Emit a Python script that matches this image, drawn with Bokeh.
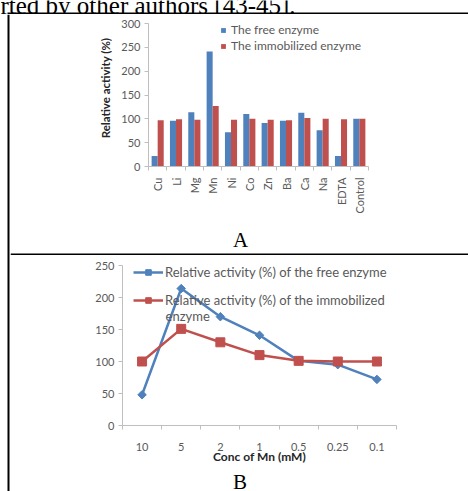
import numpy as np
from bokeh.plotting import figure
from bokeh.models import Range1d, FixedTicker, Legend, LegendItem, Label
from bokeh.layouts import column, row
from bokeh.embed import file_html
from bokeh.resources import INLINE
from bokeh.core.properties import value

# ---- data: chart A (effect of metal ions) ----
metals = ["Cu", "Li", "Mg", "Mn", "Ni", "Co", "Zn", "Ba", "Ca", "Na", "EDTA", "Control"]
free_a = [22, 96, 114, 241, 72, 110, 91, 96, 113, 76, 22, 100]
immob_a = [97, 99, 98, 127, 98, 100, 98, 97, 102, 100, 99, 100]
yticks_a = [0, 50, 100, 150, 200, 250, 300]

# ---- data: chart B (Mn concentration) ----
conc = ["10", "5", "2", "1", "0.5", "0.25", "0.1"]
free_b = [48, 214, 170, 141, 101, 95, 72]
immob_b = [100, 151, 130, 110, 101, 100, 100]
yticks_b = [0, 50, 100, 150, 200, 250]

BLUE = "#4F81BD"
RED = "#C0504D"
FONT = "Lato"
TICK_COLOR = "#595959"
AXIS_COLOR = "#BFBFBF"
TITLE_COLOR = "#262626"
SERIF = value("Liberation Serif")


def strip(w, h, color="white"):
    f = figure(width=w, height=h, x_range=Range1d(0, w), y_range=Range1d(0, h),
               toolbar_location=None, output_backend="svg", min_border=0,
               x_axis_location=None, y_axis_location=None, title=None)
    f.frame_align = False
    f.grid.visible = False
    f.outline_line_color = None
    f.background_fill_color = color
    f.border_fill_color = color
    return f


def style_axis(ax):
    ax.axis_line_color = AXIS_COLOR
    ax.major_tick_line_color = AXIS_COLOR
    ax.minor_tick_line_color = AXIS_COLOR
    ax.major_label_text_font = FONT
    ax.major_label_text_font_size = "11px"
    ax.major_label_text_color = TICK_COLOR
    ax.axis_label_text_font = FONT
    ax.axis_label_text_font_style = "bold"
    ax.axis_label_text_color = TITLE_COLOR
    ax.major_tick_in = 0
    ax.minor_tick_in = 0


# ---------------- Chart A ----------------
pa = figure(width=458, height=214, x_range=Range1d(-0.5, len(metals) - 0.5),
            y_range=Range1d(0, 300), toolbar_location=None, output_backend="svg",
            min_border_left=138, min_border_right=100, min_border_top=9,
            min_border_bottom=62, title=None)
pa.frame_align = False
pa.grid.visible = False
pa.outline_line_color = None
xa = np.arange(len(metals))
ra1 = pa.vbar(x=xa - 0.165, width=0.33, top=free_a, fill_color=BLUE, line_color=None)
ra2 = pa.vbar(x=xa + 0.165, width=0.33, top=immob_a, fill_color=RED, line_color=None)

style_axis(pa.xaxis[0])
style_axis(pa.yaxis[0])
pa.xaxis.ticker = FixedTicker(ticks=list(range(len(metals))),
                              minor_ticks=[i - 0.5 for i in range(len(metals) + 1)])
pa.xaxis.major_label_overrides = {i: m for i, m in enumerate(metals)}
pa.xaxis.major_label_orientation = np.pi / 2
pa.xaxis.major_tick_out = 0
pa.xaxis.minor_tick_out = 4
pa.xaxis.major_label_standoff = 7

pa.yaxis.ticker = FixedTicker(ticks=yticks_a)
pa.yaxis.major_tick_out = 4
pa.yaxis.minor_tick_out = 0
pa.yaxis.major_label_standoff = 4
pa.yaxis.axis_label = "\u00a0" * 5 + "Relative activity (%)"
pa.yaxis.axis_label_text_font_size = "11.5px"
pa.yaxis.axis_label_standoff = 6

leg_a = Legend(items=[LegendItem(label="The free enzyme", renderers=[ra1]),
                      LegendItem(label="The immobilized enzyme", renderers=[ra2])],
               location=(68, 109), glyph_width=6, glyph_height=6, label_standoff=5,
               label_height=13, spacing=1, padding=4, margin=0,
               label_text_font=FONT, label_text_font_size="12px",
               label_text_color=TICK_COLOR, background_fill_alpha=0,
               border_line_alpha=0)
pa.add_layout(leg_a)

# ---------------- Chart B ----------------
pb = figure(width=458, height=213, x_range=Range1d(-0.5, len(conc) - 0.5),
            y_range=Range1d(0, 250), toolbar_location=None, output_backend="svg",
            min_border_left=112, min_border_right=72, min_border_top=10,
            min_border_bottom=43, title=None)
pb.frame_align = False
pb.grid.visible = False
pb.outline_line_color = None
xb = np.arange(len(conc))
lb1 = pb.line(xb, free_b, line_color=BLUE, line_width=2.5)
sb1 = pb.scatter(xb, free_b, marker="square", angle=np.pi / 4, size=6,
                 fill_color=BLUE, line_color=BLUE)
lb2 = pb.line(xb, immob_b, line_color=RED, line_width=2.5)
sb2 = pb.scatter(xb, immob_b, marker="square", size=9, fill_color=RED, line_color=RED)

style_axis(pb.xaxis[0])
style_axis(pb.yaxis[0])
pb.xaxis.ticker = FixedTicker(ticks=list(range(len(conc))),
                              minor_ticks=[i - 0.5 for i in range(len(conc) + 1)])
pb.xaxis.major_label_overrides = {i: c for i, c in enumerate(conc)}
pb.xaxis.major_tick_out = 0
pb.xaxis.minor_tick_out = 4
pb.xaxis.major_label_standoff = 13
pb.xaxis.axis_label = "Conc of Mn (mM)"
pb.xaxis.axis_label_text_font_size = "12px"
pb.xaxis.axis_label_standoff = -5

pb.yaxis.ticker = FixedTicker(ticks=yticks_b)
pb.yaxis.major_tick_out = 4
pb.yaxis.minor_tick_out = 0
pb.yaxis.major_label_standoff = 4

leg_b = Legend(items=[LegendItem(label="Relative activity (%) of the free enzyme",
                                 renderers=[lb1, sb1]),
                      LegendItem(label="Relative activity (%) of the immobilized",
                                 renderers=[lb2, sb2])],
               location=(6, 112), glyph_width=30, glyph_height=14, label_standoff=2,
               label_height=14, spacing=12, padding=5, margin=0,
               label_text_font=FONT, label_text_font_size="13px",
               label_text_color=TICK_COLOR, background_fill_alpha=0,
               border_line_alpha=0)
pb.add_layout(leg_b)
pb.add_layout(Label(x=0.6, y=171, text="enzyme", text_font=FONT,
                    text_font_size="13px", text_color=TICK_COLOR,
                    text_baseline="middle"))

# ---------------- table frame & captions ----------------
top_strip = strip(468, 14)
top_strip.text(x=[0], y=[9.5], text=["rted by other authors [43-45]."],
               text_font=SERIF, text_font_size="25px",
               text_baseline="alphabetic", text_color="black")
top_strip.quad(left=[7], right=[468], bottom=[0], top=[2], fill_color="black",
               line_color=None)

left_strip = strip(10, 477)
left_strip.quad(left=[7], right=[9], bottom=[0], top=[477], fill_color="black",
                line_color=None)

strip_a = strip(458, 27)
strip_a.text(x=[230], y=[15.5], text=["A"], text_font=SERIF,
             text_font_size="21px", text_align="center", text_baseline="alphabetic",
             text_color="black")
strip_a.quad(left=[0], right=[458], bottom=[0], top=[2], fill_color="black",
             line_color=None)

strip_b = strip(458, 23)
strip_b.text(x=[229.5], y=[10], text=["B"], text_font=SERIF,
             text_font_size="21px", text_align="center", text_baseline="alphabetic",
             text_color="black")

layout = column(top_strip,
                row(left_strip,
                    column(pa, strip_a, pb, strip_b, spacing=0),
                    spacing=0),
                spacing=0)

open("out.html", "w").write(file_html(layout, INLINE))
